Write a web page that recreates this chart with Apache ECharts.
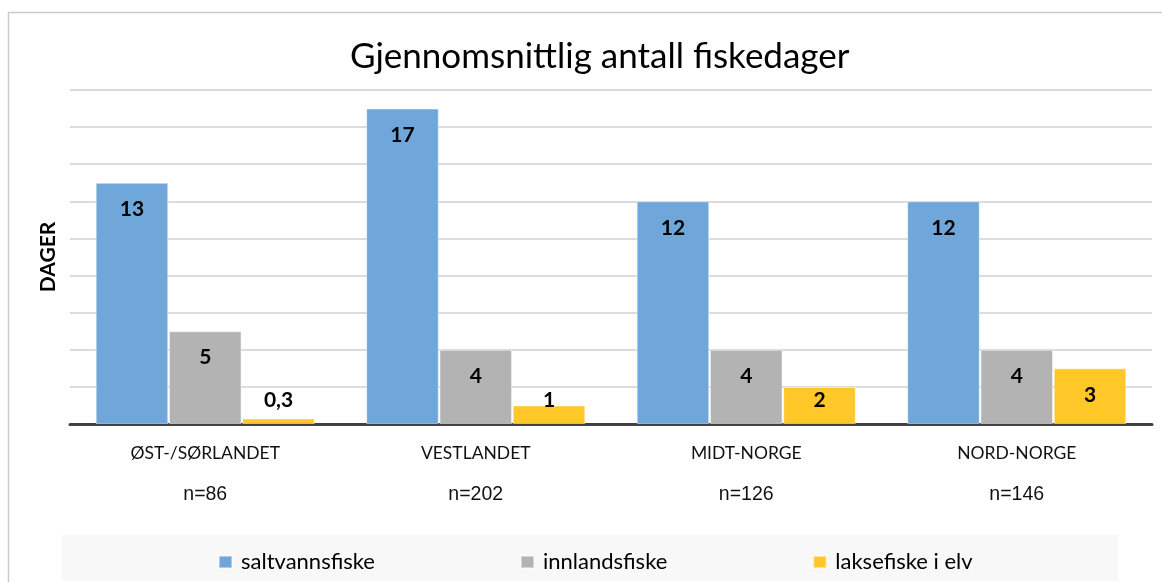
<!DOCTYPE html>
<html>
<head>
<meta charset="utf-8">
<script src="https://cdn.jsdelivr.net/npm/echarts@6/dist/echarts.min.js"></script>
<style>html,body{margin:0;padding:0;background:#fff;}#c{width:1162px;height:582px;}</style>
</head>
<body>
<div id="c"></div>
<script>
const titleText = 'Gjennomsnittlig antall fiskedager';
const categories = ['ØST-/SØRLANDET', 'VESTLANDET', 'MIDT-NORGE', 'NORD-NORGE'];
const sampleSizes = ['n=86', 'n=202', 'n=126', 'n=146'];
const seriesNames = ['saltvannsfiske', 'innlandsfiske', 'laksefiske i elv'];
const saltvann = [13, 17, 12, 12];
const innland = [5, 4, 4, 4];
const laks = [0.3, 1, 2, 3];
const yAxisName = 'DAGER';

const colors = ['#70A7DA', '#B3B3B3', '#FFC828'];
const FONT = 'Lato, "Open Sans", sans-serif';

function makeData(vals) {
  return vals.map(v => {
    if (v < 2.5) {
      return { value: v, label: { position: 'insideBottom', distance: 13 } };
    }
    return { value: v };
  });
}

function makeSeries(name, vals, color) {
  return {
    name: name,
    type: 'bar',
    data: makeData(vals),
    barGap: '1%',
    barCategoryGap: '19%',
    itemStyle: { color: color, borderColor: 'rgba(255,255,255,0.45)', borderWidth: 1 },
    label: {
      show: true,
      position: 'insideTop',
      distance: 16,
      color: '#000',
      fontFamily: FONT,
      fontWeight: 'bold',
      fontSize: 21,
      formatter: p => String(p.value).replace('.', ',')
    }
  };
}

const chart = echarts.init(document.getElementById('c'), null, { renderer: 'canvas' });
chart.setOption({
  animation: false,
  backgroundColor: '#fff',
  graphic: [
    { type: 'rect', z: -10, shape: { x: 8.5, y: 12.5, width: 1170, height: 580 },
      style: { fill: '#fff', stroke: '#cccccc', lineWidth: 1.5 } },
    { type: 'rect', z: -9, shape: { x: 62, y: 535, width: 1056, height: 46 },
      style: { fill: '#f8f8f8' } }
  ],
  title: {
    text: titleText,
    left: 345,
    top: 34,
    textStyle: { fontFamily: FONT, fontWeight: 'normal', fontSize: 35, color: '#000' }
  },
  legend: {
    data: seriesNames,
    left: 213,
    top: 546,
    itemGap: 145,
    itemWidth: 13,
    itemHeight: 12,
    icon: 'rect',
    textStyle: { fontFamily: FONT, fontSize: 22, color: '#000', padding: [0, 0, 0, 4] }
  },
  grid: { left: 70, right: 10, top: 90, bottom: 158, containLabel: false },
  xAxis: {
    type: 'category',
    data: categories,
    axisLine: { show: true, lineStyle: { color: '#404040', width: 3 } },
    axisTick: { show: false },
    axisLabel: {
      margin: 18,
      interval: 0,
      formatter: (v, i) => '{c|' + v + '}\n{n|' + sampleSizes[i] + '}',
      rich: {
        c: { fontFamily: FONT, fontSize: 17.5, color: '#111', lineHeight: 22 },
        n: { fontFamily: '"Liberation Sans", Arial, sans-serif', fontSize: 19.5, color: '#111', lineHeight: 41, verticalAlign: 'bottom' }
      }
    }
  },
  yAxis: {
    type: 'value',
    min: 0,
    max: 18,
    interval: 2,
    name: yAxisName,
    nameLocation: 'middle',
    nameGap: 11,
    nameRotate: 90,
    nameTextStyle: { fontFamily: FONT, fontWeight: 'bold', fontSize: 21, color: '#000' },
    axisLabel: { show: false },
    axisLine: { show: false },
    axisTick: { show: false },
    splitLine: { show: true, lineStyle: { color: '#d0d0d0', width: 1.5 } }
  },
  series: [
    makeSeries(seriesNames[0], saltvann, colors[0]),
    makeSeries(seriesNames[1], innland, colors[1]),
    makeSeries(seriesNames[2], laks, colors[2])
  ]
});
</script>
</body>
</html>
